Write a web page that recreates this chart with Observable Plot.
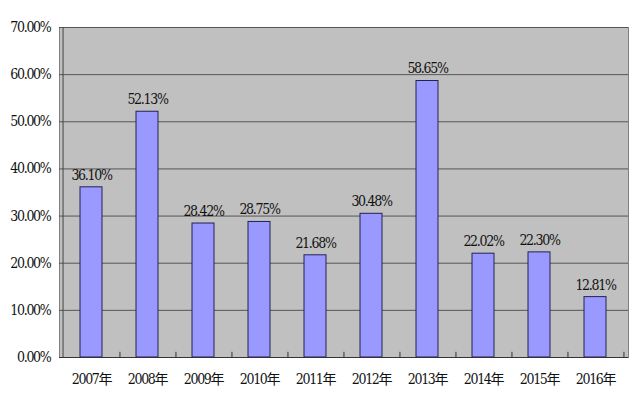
<!DOCTYPE html>
<html><head><meta charset="utf-8">
<script src="https://cdn.jsdelivr.net/npm/d3@7"></script>
<script src="https://cdn.jsdelivr.net/npm/@observablehq/plot@0.6"></script>
<style>
body{margin:0;background:#fff;}
svg text{letter-spacing:-1.3px;font-stretch:condensed;}
</style></head><body><div id="chart"></div>
<script>
const years = ["2007年","2008年","2009年","2010年","2011年","2012年","2013年","2014年","2015年","2016年"];
const values = [36.10, 52.13, 28.42, 28.75, 21.68, 30.48, 58.65, 22.02, 22.30, 12.81];
const yTicks = [0,10,20,30,40,50,60,70];
const data = years.map((y,i)=>({year:y, v:values[i]}));
const W=640,H=411,ml=59,mr=12,mt=27,mb=54;
const step=(W-ml-mr)/years.length;
const ff="'DejaVu Serif Condensed','DejaVu Serif','Noto Sans CJK SC',serif";
const chart = Plot.plot({
  width:W,height:H,marginLeft:ml,marginRight:mr,marginTop:mt,marginBottom:mb,
  style:{background:"#fff",fontSize:"14px",fontFamily:ff},
  x:{domain:years,paddingInner:0.6,paddingOuter:0.3,label:null},
  y:{domain:[0,70],ticks:yTicks,label:null},
  marks:[
    Plot.frame({fill:"#c0c0c0",stroke:"#808080"}),
    Plot.gridY(yTicks,{stroke:"#555",strokeOpacity:1,strokeWidth:1}),
    Plot.barY(data,{x:"year",y:"v",fill:"#9999ff",stroke:"#222255",strokeWidth:1}),
    Plot.text(data,{x:"year",y:"v",text:d=>d.v.toFixed(2)+"%",dy:-12,fontSize:14,fill:"#111"}),
    Plot.ruleX(years,{x:d=>d,dx:step/2,y1:0,y2:1.1,stroke:"#333"}),
    Plot.axisY(yTicks,{tickSize:0,tickPadding:9,tickFormat:d=>d.toFixed(2)+"%",fontSize:14,fill:"#111"}),
    Plot.axisX({tickSize:0,tickPadding:17,fontSize:14,fill:"#111"}),
    Plot.ruleY([0],{stroke:"#333"}),
    Plot.ruleX([years[0]],{dx:-step/2,stroke:"#444"})
  ]
});
document.getElementById("chart").appendChild(chart);
</script></body></html>
